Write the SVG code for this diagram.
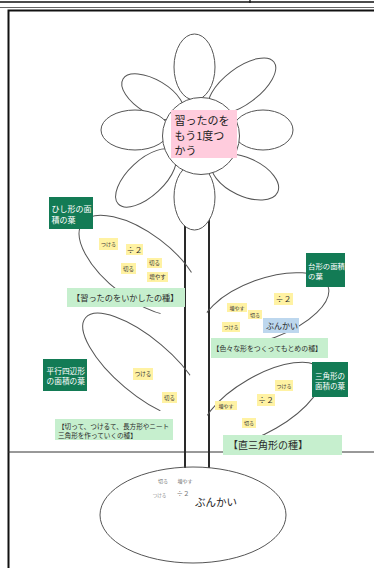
<svg xmlns="http://www.w3.org/2000/svg" width="374" height="568" viewBox="0 0 374 568">
  <style>
    text { font-family: "Noto Sans CJK JP", "Noto Sans", sans-serif; }
    .petal { fill: #ffffff; stroke: #555; stroke-width: 1; }
    .leaf { fill: none; stroke: #555; stroke-width: 1; }
    .stem { stroke: #2a2a2a; stroke-width: 2; }
    .dark { fill: #137b55; }
    .dark-t { fill: #ffffff; }
    .seed { fill: #c6efce; }
    .seed-t { fill: #2b2b2b; }
    .tag { fill: #fff2a3; }
    .tag-t { fill: #333; text-anchor: middle; }
    .blue { fill: #bdd7ee; }
  </style>
  <defs>
    <clipPath id="leftSide"><rect x="0" y="0" width="185" height="568"/></clipPath>
    <clipPath id="rightSide"><rect x="209" y="0" width="165" height="568"/></clipPath>
  </defs>

  <rect x="0" y="0" width="374" height="568" fill="#ffffff"/>

  <!-- page rules and frame -->
  <line x1="0" y1="2" x2="374" y2="2" stroke="#111" stroke-width="1.3"/>
  <line x1="250" y1="0" x2="250" y2="3" stroke="#111" stroke-width="1.3"/>
  <line x1="0" y1="7.5" x2="374" y2="7.5" stroke="#666" stroke-width="1"/>
  <rect x="8.5" y="10.5" width="380" height="570" fill="none" stroke="#111" stroke-width="2"/>
  <line x1="8" y1="452" x2="374" y2="452" stroke="#333" stroke-width="1"/>

  <!-- stem -->
  <g id="stem">
    <line class="stem" x1="185" y1="205" x2="185" y2="468"/>
    <line class="stem" x1="209" y1="205" x2="209" y2="468"/>
  </g>

  <!-- flower -->
  <g id="flower">
    <ellipse class="petal" cx="194.5" cy="67" rx="20.5" ry="33"/>
    <ellipse class="petal" cx="153" cy="97" rx="35" ry="17" transform="rotate(31 153 97)"/>
    <ellipse class="petal" cx="242" cy="86" rx="40" ry="18" transform="rotate(-37 242 86)"/>
    <ellipse class="petal" cx="135" cy="130" rx="34" ry="20"/>
    <ellipse class="petal" cx="263" cy="130" rx="30" ry="20"/>
    <ellipse class="petal" cx="146" cy="178" rx="38" ry="18" transform="rotate(-43 146 178)"/>
    <ellipse class="petal" cx="245" cy="177" rx="36" ry="19" transform="rotate(25 245 177)"/>
    <ellipse class="petal" cx="194.5" cy="197" rx="20.5" ry="33"/>
    <circle class="petal" cx="201" cy="136" r="38.5"/>
    <rect x="171" y="110" width="66" height="48" fill="#ffccdd"/>
    <text x="174.5" y="124.5" font-size="11" fill="#222">習ったのを</text>
    <text x="174.5" y="140" font-size="11" fill="#222">もう1度つ</text>
    <text x="174.5" y="154.5" font-size="11" fill="#222">かう</text>
  </g>

  <!-- leaves -->
  <g id="leaves">
    <ellipse class="leaf" cx="140" cy="266" rx="72" ry="33" transform="rotate(37 140 266)" clip-path="url(#leftSide)"/>
    <ellipse class="leaf" cx="143" cy="366" rx="75" ry="28" transform="rotate(40 143 366)" clip-path="url(#leftSide)"/>
    <ellipse class="leaf" cx="265" cy="309" rx="67" ry="30" transform="rotate(-20 265 309)" clip-path="url(#rightSide)"/>
    <ellipse class="leaf" cx="262" cy="404" rx="68" ry="28" transform="rotate(-30 262 404)" clip-path="url(#rightSide)"/>
  </g>

  <!-- bulb -->
  <g id="bulb">
    <ellipse class="leaf" cx="193" cy="515" rx="93" ry="48"/>
    <text x="163" y="483" font-size="5" fill="#777" text-anchor="middle">切る</text>
    <text x="185" y="483" font-size="5" fill="#777" text-anchor="middle">増やす</text>
    <text x="159.5" y="496.5" font-size="4.5" fill="#888" text-anchor="middle">つける</text>
    <text x="183" y="496" font-size="6.5" fill="#777" text-anchor="middle">÷２</text>
    <text x="195" y="505.5" font-size="10.5" fill="#222">ぶんかい</text>
  </g>

  <!-- rhombus leaf -->
  <g id="leaf-rhombus">
    <rect class="dark" x="49" y="197" width="44" height="32"/>
    <text class="dark-t" x="51.5" y="212" font-size="8">ひし形の面</text>
    <text class="dark-t" x="51.5" y="222.5" font-size="8">積の葉</text>
    <rect class="tag" x="99" y="238" width="19" height="12"/>
    <text class="tag-t" x="108.5" y="246" font-size="5">つける</text>
    <rect class="tag" x="126" y="244" width="17" height="11"/>
    <text class="tag-t" x="134.5" y="252.5" font-size="8">÷２</text>
    <rect class="tag" x="147" y="258" width="15" height="10"/>
    <text class="tag-t" x="154.5" y="265" font-size="5.5">切る</text>
    <rect class="tag" x="121" y="263" width="15" height="11"/>
    <text class="tag-t" x="128.5" y="270.5" font-size="5.5">切る</text>
    <rect class="tag" x="147" y="272" width="21" height="10"/>
    <text class="tag-t" x="157.5" y="279" font-size="5.5">増やす</text>
    <rect class="seed" x="67" y="288" width="118" height="19"/>
    <text class="seed-t" x="72" y="300.5" font-size="8.2">【習ったのをいかしたの種】</text>
  </g>

  <!-- trapezoid leaf -->
  <g id="leaf-trapezoid">
    <rect class="dark" x="306" y="253" width="39" height="34"/>
    <text class="dark-t" x="308" y="268.5" font-size="7.4">台形の面積</text>
    <text class="dark-t" x="308" y="278.5" font-size="7.4">の葉</text>
    <rect class="tag" x="274" y="293" width="19" height="12"/>
    <text class="tag-t" x="283.5" y="302" font-size="8">÷２</text>
    <rect class="tag" x="227" y="303" width="20" height="9"/>
    <text class="tag-t" x="237" y="309.5" font-size="5">増やす</text>
    <rect class="tag" x="248" y="310" width="14" height="9"/>
    <text class="tag-t" x="255" y="316.5" font-size="5">切る</text>
    <rect class="tag" x="222" y="322" width="18" height="10"/>
    <text class="tag-t" x="231" y="329" font-size="5">つける</text>
    <rect class="blue" x="263" y="318" width="36" height="15"/>
    <text x="266" y="328.5" font-size="8" fill="#222">ぶんかい</text>
    <rect class="seed" x="211" y="338" width="117" height="20"/>
    <text class="seed-t" x="212.5" y="350.8" font-size="6.9">【色々な形をつくってもとめの種】</text>
  </g>

  <!-- parallelogram leaf -->
  <g id="leaf-parallelogram">
    <rect class="dark" x="43" y="359" width="44" height="32"/>
    <text class="dark-t" x="46.5" y="374" font-size="7.7">平行四辺形</text>
    <text class="dark-t" x="46.5" y="384" font-size="7.7">の面積の葉</text>
    <rect class="tag" x="133" y="368" width="20" height="12"/>
    <text class="tag-t" x="143" y="376" font-size="5.5">つける</text>
    <rect class="tag" x="162" y="392" width="15" height="11"/>
    <text class="tag-t" x="169.5" y="399.5" font-size="5.5">切る</text>
    <rect class="seed" x="55" y="419" width="118" height="21"/>
    <text class="seed-t" x="58" y="428.5" font-size="6.6">【切って、つけるて、長方形やニート</text>
    <text class="seed-t" x="58" y="437.5" font-size="6.6">三角形を作っていくの種】</text>
  </g>

  <!-- triangle leaf -->
  <g id="leaf-triangle">
    <rect class="dark" x="312" y="362" width="36" height="35"/>
    <text class="dark-t" x="315" y="378.5" font-size="7.5">三角形の</text>
    <text class="dark-t" x="315" y="388.5" font-size="7.5">面積の葉</text>
    <rect class="tag" x="275" y="380" width="18" height="11"/>
    <text class="tag-t" x="284" y="387.5" font-size="5">つける</text>
    <rect class="tag" x="257" y="394" width="18" height="12"/>
    <text class="tag-t" x="266" y="403" font-size="8">÷２</text>
    <rect class="tag" x="215" y="401" width="22" height="9"/>
    <text class="tag-t" x="226" y="407.5" font-size="5">増やす</text>
    <rect class="tag" x="242" y="418" width="14" height="10"/>
    <text class="tag-t" x="249" y="425" font-size="5">切る</text>
    <rect class="seed" x="223" y="435" width="119" height="20"/>
    <text class="seed-t" x="228" y="448.5" font-size="10">【直三角形の種】</text>
  </g>
</svg>
